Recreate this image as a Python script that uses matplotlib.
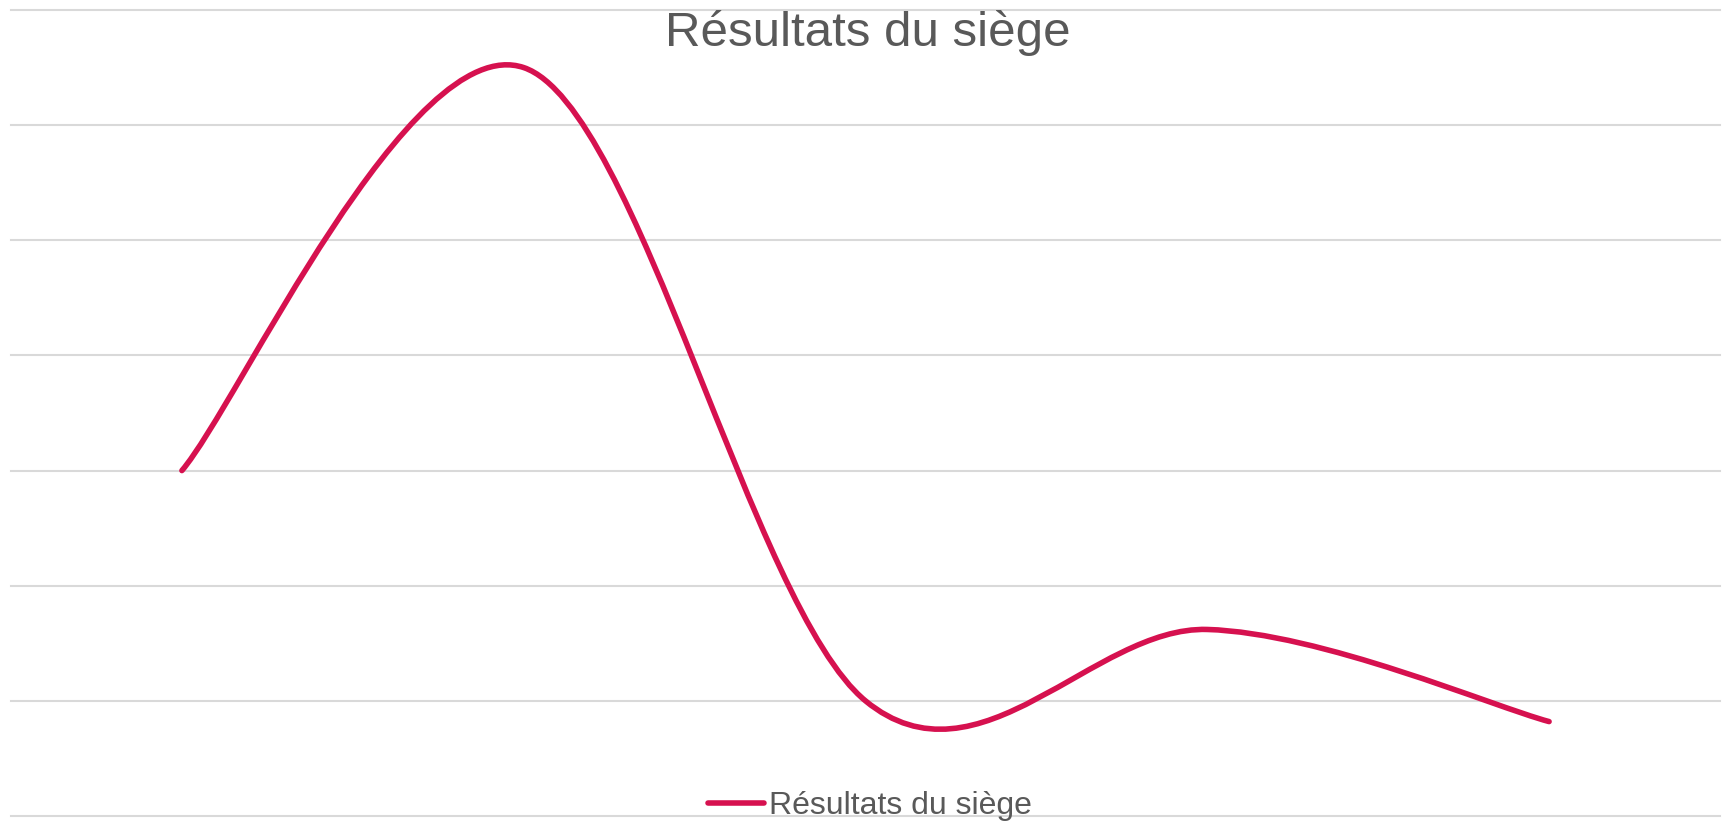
import matplotlib
matplotlib.use("Agg")
import matplotlib.pyplot as plt
from matplotlib.path import Path
from matplotlib.patches import PathPatch
from matplotlib.lines import Line2D

# data (no axis labels in the original)
categories = [0, 1, 2, 3, 4]
values = [3.0, 6.5, 1.0, 1.62, 0.82]
series_name = "Résultats du siège"
title = "Résultats du siège"

lineColor = "#D6114F"
textColor = "#595959"
gridColor = "#D9D9D9"

def SmoothPath(xs, ys):
    # Excel-like smoothed line: cubic Bezier through the points (Catmull-Rom controls)
    pts = list(zip(xs, ys))
    n = len(pts)
    verts = [pts[0]]
    codes = [Path.MOVETO]
    for i in range(n - 1):
        p0 = pts[i - 1] if i > 0 else pts[i]
        p1 = pts[i]
        p2 = pts[i + 1]
        p3 = pts[i + 2] if i + 2 < n else pts[i + 1]
        c1 = (p1[0] + (p2[0] - p0[0]) / 6, p1[1] + (p2[1] - p0[1]) / 6)
        c2 = (p2[0] - (p3[0] - p1[0]) / 6, p2[1] - (p3[1] - p1[1]) / 6)
        verts += [c1, c2, p2]
        codes += [Path.CURVE4] * 3
    return Path(verts, codes)

plt.rcParams['font.family'] = ['Liberation Sans', 'DejaVu Sans']

fig = plt.figure(figsize=(17.27, 8.21), dpi=100)
ax = fig.add_axes([11 / 1727, 5 / 821, 1709 / 1727, 806 / 821])

ax.set_xlim(-0.5, 4.5)
ax.set_ylim(0, 7)
ax.set_yticks(range(8))
ax.set_xticks([])
ax.tick_params(axis='y', length=0, labelleft=False)
ax.grid(axis='y', color=gridColor, linewidth=1.5)
for gl in ax.get_ygridlines():
    gl.set_clip_on(False)
ax.set_axisbelow(True)
for s in ax.spines.values():
    s.set_visible(False)

patch = PathPatch(SmoothPath(categories, values), facecolor='none', edgecolor=lineColor,
                  linewidth=4.0, capstyle='round', joinstyle='round')
ax.add_patch(patch)

fig.text(0.5025, (821 - 33) / 821, title, ha='center', va='center', fontsize=35.5, color=textColor)

handle = Line2D([], [], color=lineColor, linewidth=4.0, solid_capstyle='round')
fig.legend([handle], [series_name], loc='center', bbox_to_anchor=(870 / 1727, (821 - 806) / 821),
           frameon=False, fontsize=23, labelcolor=textColor, handlelength=1.75,
           handletextpad=0.15, borderpad=0, borderaxespad=0)

fig.savefig("out.png", dpi=100)
